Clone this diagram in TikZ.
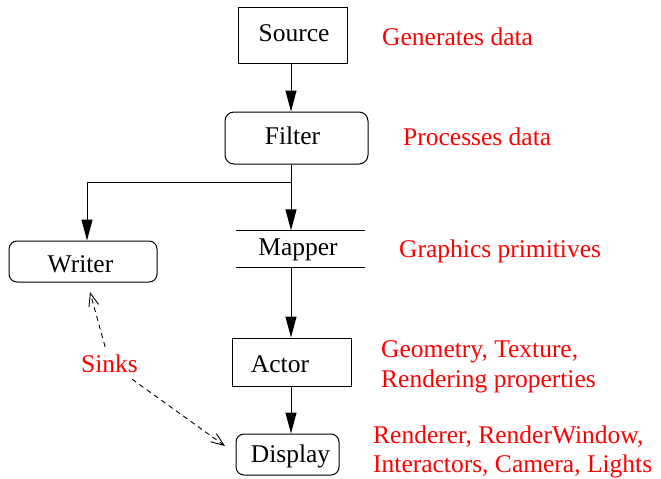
\documentclass[tikz,border=0pt]{standalone}
\usepackage{fontspec}
\setmainfont{Liberation Serif}
\usetikzlibrary{arrows.meta}

\tikzset{
  txt/.style={font=\fontsize{25.5}{30}\selectfont, text height=18pt, text depth=5pt, inner sep=0pt},
  stage/.style={draw, line width=1pt, inner sep=0pt},
  rbox/.style={stage, rounded corners=9pt},
  note/.style={txt, text=red, anchor=base west},
  flow/.style={line width=1pt, -{Triangle[length=21pt,width=11pt]}},
  sinkline/.style={line width=0.9pt, dash pattern=on 5pt off 4pt,
                   -{Straight Barb[length=13pt,width=10pt,line width=0.9pt]}},
}

\begin{document}
\begin{tikzpicture}[x=1pt, y=-1pt]
  \useasboundingbox (0,0) rectangle (661,479);

  % pipeline stages
  \node[stage, minimum width=109pt, minimum height=56pt,
        label={[txt, xshift=1.5pt]center:Source}] (source) at (292.5,35) {};
  \node[rbox, minimum width=143pt, minimum height=52pt,
        label={[txt, xshift=-4pt]center:Filter}] (filter) at (296.5,138) {};
  \node[rbox, rounded corners=8pt, minimum width=148pt, minimum height=41pt,
        label={[txt, xshift=-2.5pt, yshift=-4pt]center:Writer}] (writer) at (83,261.5) {};
  \node[inner sep=0pt, minimum width=129pt, minimum height=37pt,
        label={[txt, xshift=-2.5pt]center:Mapper}] (mapper) at (300.5,249) {};
  \draw[line width=1pt] (mapper.north west) -- (mapper.north east);
  \draw[line width=1pt] (mapper.south west) -- (mapper.south east);
  \node[stage, minimum width=119pt, minimum height=48pt,
        label={[txt, xshift=-11.5pt, yshift=-3.6pt]center:Actor}] (actor) at (291.5,362) {};
  \node[rbox, rounded corners=8pt, minimum width=103pt, minimum height=41pt,
        label={[txt, xshift=3pt, yshift=-1pt]center:Display}] (display) at (287.5,454.5) {};

  % data flow
  \coordinate (spine) at (291,0);
  \coordinate (split) at (291,182.5);
  \coordinate (wtap) at (87,182.5);
  \draw[flow] (source.south -| spine) -- (filter.north -| spine);
  \draw[line width=1pt] (filter.south -| spine) -- (split);
  \draw[flow] (split) -- (mapper.north -| spine);
  \draw[flow] (split) -- (wtap) -- (writer.north -| wtap);
  \draw[flow] (mapper.south -| spine) -- (actor.north -| spine);
  \draw[flow] (actor.south -| spine) -- (display.north -| spine);

  % sinks
  \node[txt, text=red, text depth=0pt, inner sep=7pt, anchor=base west] (sinks) at (74,372) {Sinks};
  \coordinate (wend) at (90,292);
  \coordinate (dend) at (225,446);
  \draw[sinkline] (sinks) -- (wend);
  \draw[sinkline] (sinks) -- (dend);

  % annotations
  \node[note] (n1) at (382,45) {Generates data};
  \node[note] (n2) at (403,145) {Processes data};
  \node[note] (n3) at (399,257) {Graphics primitives};
  \node[note] (n4a) at (381,357) {Geometry, Texture,};
  \node[note] (n4b) at (381,387) {Rendering properties};
  \node[note] (n5a) at (373,443) {Renderer, RenderWindow,};
  \node[note] (n5b) at (373,472) {Interactors, Camera, Lights};
\end{tikzpicture}
\end{document}
